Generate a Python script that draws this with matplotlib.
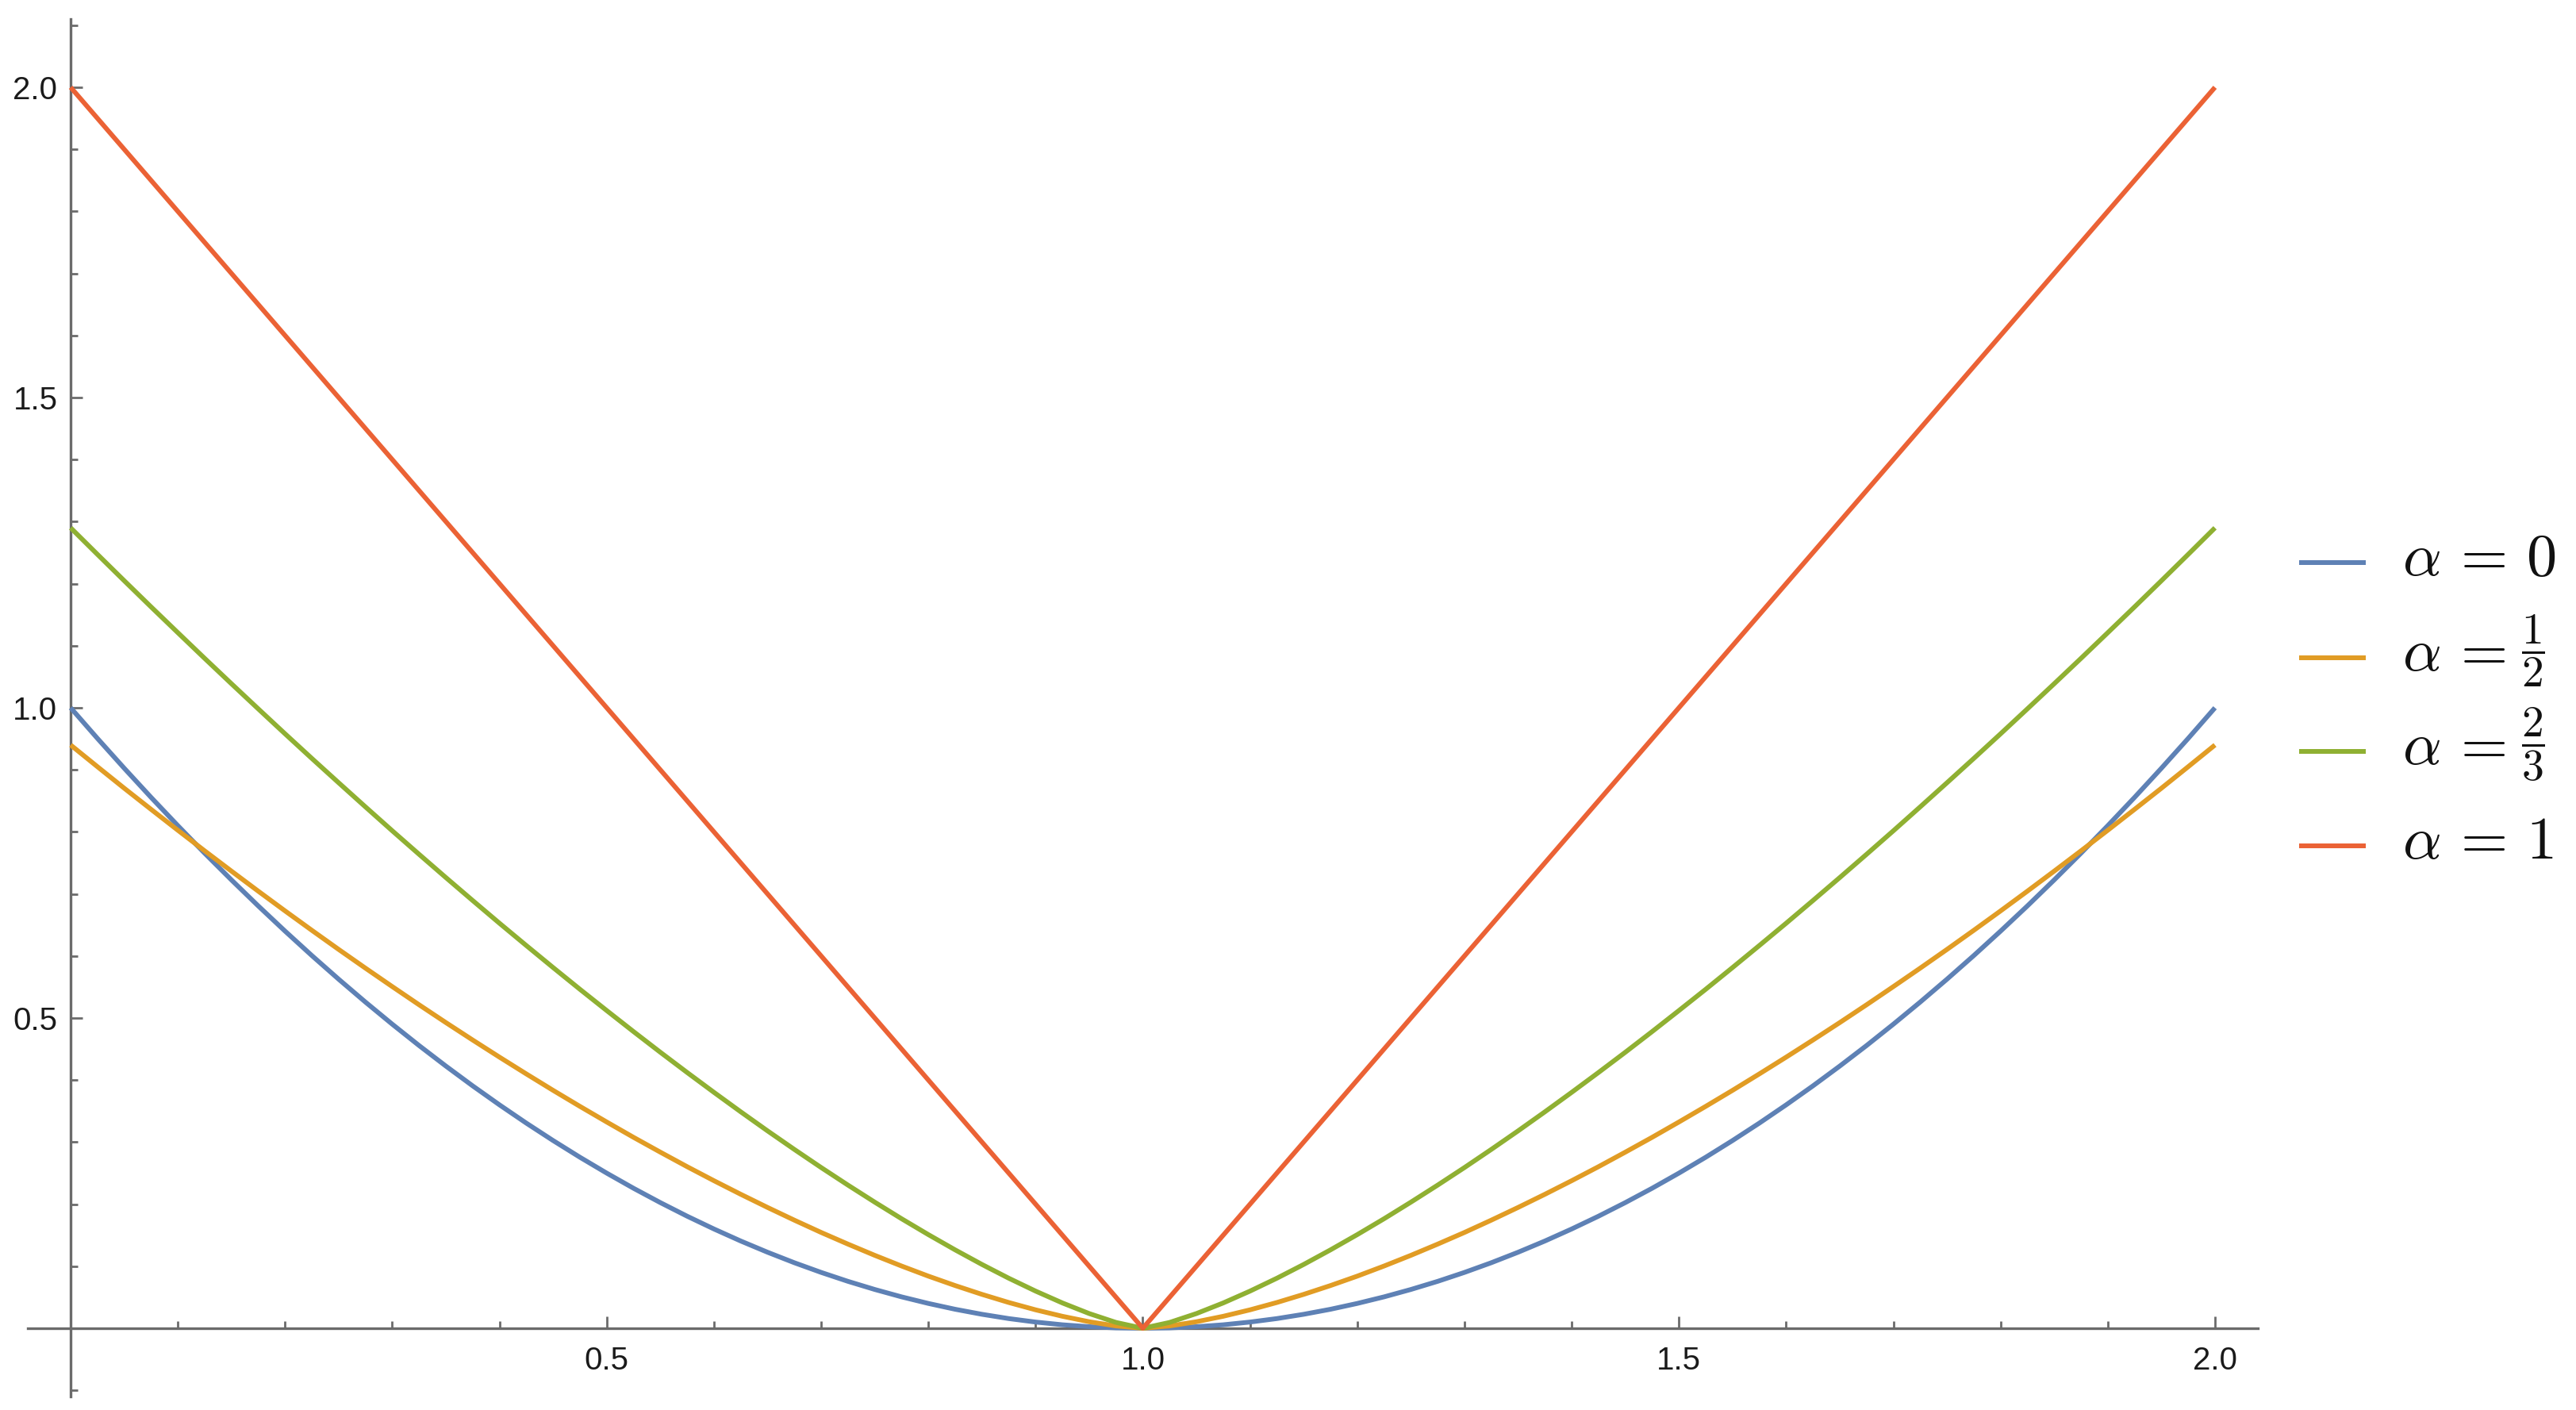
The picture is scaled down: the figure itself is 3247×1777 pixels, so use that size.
import matplotlib
matplotlib.use('Agg')
import matplotlib.pyplot as plt
from matplotlib.lines import Line2D
from matplotlib.ticker import MultipleLocator

# ---- data ----
x_vals = [0.000, 0.025, 0.050, 0.075, 0.100, 0.125, 0.150, 0.175, 0.200, 0.225,
          0.250, 0.275, 0.300, 0.325, 0.350, 0.375, 0.400, 0.425, 0.450, 0.475,
          0.500, 0.525, 0.550, 0.575, 0.600, 0.625, 0.650, 0.675, 0.700, 0.725,
          0.750, 0.775, 0.800, 0.825, 0.850, 0.875, 0.900, 0.925, 0.950, 0.975,
          1.000,
          1.025, 1.050, 1.075, 1.100, 1.125, 1.150, 1.175, 1.200, 1.225, 1.250,
          1.275, 1.300, 1.325, 1.350, 1.375, 1.400, 1.425, 1.450, 1.475, 1.500,
          1.525, 1.550, 1.575, 1.600, 1.625, 1.650, 1.675, 1.700, 1.725, 1.750,
          1.775, 1.800, 1.825, 1.850, 1.875, 1.900, 1.925, 1.950, 1.975, 2.000]

y_alpha_0 = [1.0000, .9506, .9025, .8556, .8100, .7656, .7225, .6806, .6400, .6006,
             .5625, .5256, .4900, .4556, .4225, .3906, .3600, .3306, .3025, .2756,
             .2500, .2256, .2025, .1806, .1600, .1406, .1225, .1056, .0900, .0756,
             .0625, .0506, .0400, .0306, .0225, .0156, .0100, .0056, .0025, .0006,
             .0000,
             .0006, .0025, .0056, .0100, .0156, .0225, .0306, .0400, .0506, .0625,
             .0756, .0900, .1056, .1225, .1406, .1600, .1806, .2025, .2256, .2500,
             .2756, .3025, .3306, .3600, .3906, .4225, .4556, .4900, .5256, .5625,
             .6006, .6400, .6806, .7225, .7656, .8100, .8556, .9025, .9506, 1.0000]

y_alpha_half = [.9400, .9050, .8703, .8363, .8026, .7694, .7367, .7044, .6726, .6413,
                .6105, .5803, .5506, .5213, .4926, .4645, .4369, .4099, .3834, .3576,
                .3324, .3077, .2838, .2604, .2378, .2159, .1947, .1742, .1544, .1356,
                .1175, .1003, .0840, .0688, .0546, .0415, .0297, .0193, .0105, .0037,
                .0000,
                .0037, .0105, .0193, .0297, .0415, .0546, .0688, .0840, .1003, .1175,
                .1356, .1544, .1742, .1947, .2159, .2378, .2604, .2838, .3077, .3324,
                .3576, .3834, .4099, .4369, .4645, .4926, .5213, .5506, .5803, .6105,
                .6413, .6726, .7044, .7367, .7694, .8026, .8363, .8703, .9050, .9400]

y_alpha_two_thirds = [1.2900, 1.2472, 1.2047, 1.1626, 1.1210, 1.0796, 1.0387, .9982, .9580, .9183,
                      .8791, .8402, .8017, .7638, .7263, .6893, .6527, .6168, .5813, .5463,
                      .5120, .4781, .4448, .4122, .3802, .3488, .3181, .2882, .2590, .2307,
                      .2032, .1765, .1509, .1263, .1028, .0806, .0599, .0408, .0237, .0094,
                      .0000,
                      .0094, .0237, .0408, .0599, .0806, .1028, .1263, .1509, .1765, .2032,
                      .2307, .2590, .2882, .3181, .3488, .3802, .4122, .4448, .4781, .5120,
                      .5463, .5813, .6168, .6527, .6893, .7263, .7638, .8017, .8402, .8791,
                      .9183, .9580, .9982, 1.0387, 1.0796, 1.1210, 1.1626, 1.2047, 1.2472, 1.2900]

y_alpha_1 = [2.00, 1.95, 1.90, 1.85, 1.80, 1.75, 1.70, 1.65, 1.60, 1.55,
             1.50, 1.45, 1.40, 1.35, 1.30, 1.25, 1.20, 1.15, 1.10, 1.05,
             1.00, 0.95, 0.90, 0.85, 0.80, 0.75, 0.70, 0.65, 0.60, 0.55,
             0.50, 0.45, 0.40, 0.35, 0.30, 0.25, 0.20, 0.15, 0.10, 0.05,
             0.00,
             0.05, 0.10, 0.15, 0.20, 0.25, 0.30, 0.35, 0.40, 0.45, 0.50,
             0.55, 0.60, 0.65, 0.70, 0.75, 0.80, 0.85, 0.90, 0.95, 1.00,
             1.05, 1.10, 1.15, 1.20, 1.25, 1.30, 1.35, 1.40, 1.45, 1.50,
             1.55, 1.60, 1.65, 1.70, 1.75, 1.80, 1.85, 1.90, 1.95, 2.00]

legend_prefix = r'$\alpha\,=$'
legend_values = [r'$0$', r'$\dfrac{1}{2}$', r'$\dfrac{2}{3}$', r'$1$']
legend_is_fraction = [False, True, True, False]
series_colors = ['#5E81B5', '#E19C24', '#8FB032', '#EB6235']

x_tick_values = [0.5, 1.0, 1.5, 2.0]
x_tick_labels = ['0.5', '1.0', '1.5', '2.0']
y_tick_values = [0.5, 1.0, 1.5, 2.0]
y_tick_labels = ['0.5', '1.0', '1.5', '2.0']

# ---- figure ----
plt.rcParams['mathtext.fontset'] = 'cm'
plt.rcParams['font.family'] = ['Liberation Sans', 'DejaVu Sans']

W, H = 3248, 1777
fig = plt.figure(figsize=(W / 100, H / 100), dpi=100)
ax = fig.add_axes([35 / W, 1 - 1760 / H, (2846 - 35) / W, (1760 - 24) / H])

all_series = [y_alpha_0, y_alpha_half, y_alpha_two_thirds, y_alpha_1]
lines = []
for ys, c in zip(all_series, series_colors):
    ln, = ax.plot(x_vals, ys, color=c, lw=4.3, solid_capstyle='butt',
                  solid_joinstyle='round', zorder=3, clip_on=False)
    lines.append(ln)

ax.set_xlim(-0.04, 2.04)
ax.set_ylim(-0.11, 2.11)

axis_color = '#6b6b6b'
for side in ['top', 'right']:
    ax.spines[side].set_visible(False)
for side in ['left', 'bottom']:
    ax.spines[side].set_position(('data', 0))
    ax.spines[side].set_color(axis_color)
    ax.spines[side].set_linewidth(2.4)

ax.set_xticks(x_tick_values)
ax.set_xticklabels(x_tick_labels)
ax.set_yticks(y_tick_values)
ax.set_yticklabels(y_tick_labels)
ax.xaxis.set_minor_locator(MultipleLocator(0.1))
ax.yaxis.set_minor_locator(MultipleLocator(0.1))

ax.tick_params(which='major', direction='in', length=11, width=2.0, color=axis_color,
               labelsize=29, labelcolor='#1a1a1a')
ax.tick_params(which='minor', direction='in', length=6.5, width=2.0, color=axis_color)
ax.tick_params(axis='x', which='major', pad=16)
ax.tick_params(axis='y', which='major', pad=12)

# ---- legend (handles take colors from the plotted lines) ----
renderer = fig.canvas.get_renderer()
row_y = [709, 829, 947, 1066]
for ln, val, is_frac, ry in zip(lines, legend_values, legend_is_fraction, row_y):
    yf = 1 - ry / H
    fig.add_artist(Line2D([2898 / W, 2982 / W], [yf, yf], transform=fig.transFigure,
                          color=ln.get_color(), lw=4.3, solid_capstyle='butt'))
    yb = 1 - (ry + 16) / H
    t = fig.text(3028 / W, yb, legend_prefix, fontsize=55, va='baseline', ha='left',
                 color='#111111')
    bb = t.get_window_extent(renderer)
    if is_frac:
        fig.text((bb.x1 + 20) / W, 1 - (ry - 9) / H, val, fontsize=40,
                 va='center', ha='left', color='#111111')
    else:
        fig.text((bb.x1 + 26) / W, yb, val, fontsize=55,
                 va='baseline', ha='left', color='#111111')

fig.savefig('out.png', dpi=100, facecolor='white')
